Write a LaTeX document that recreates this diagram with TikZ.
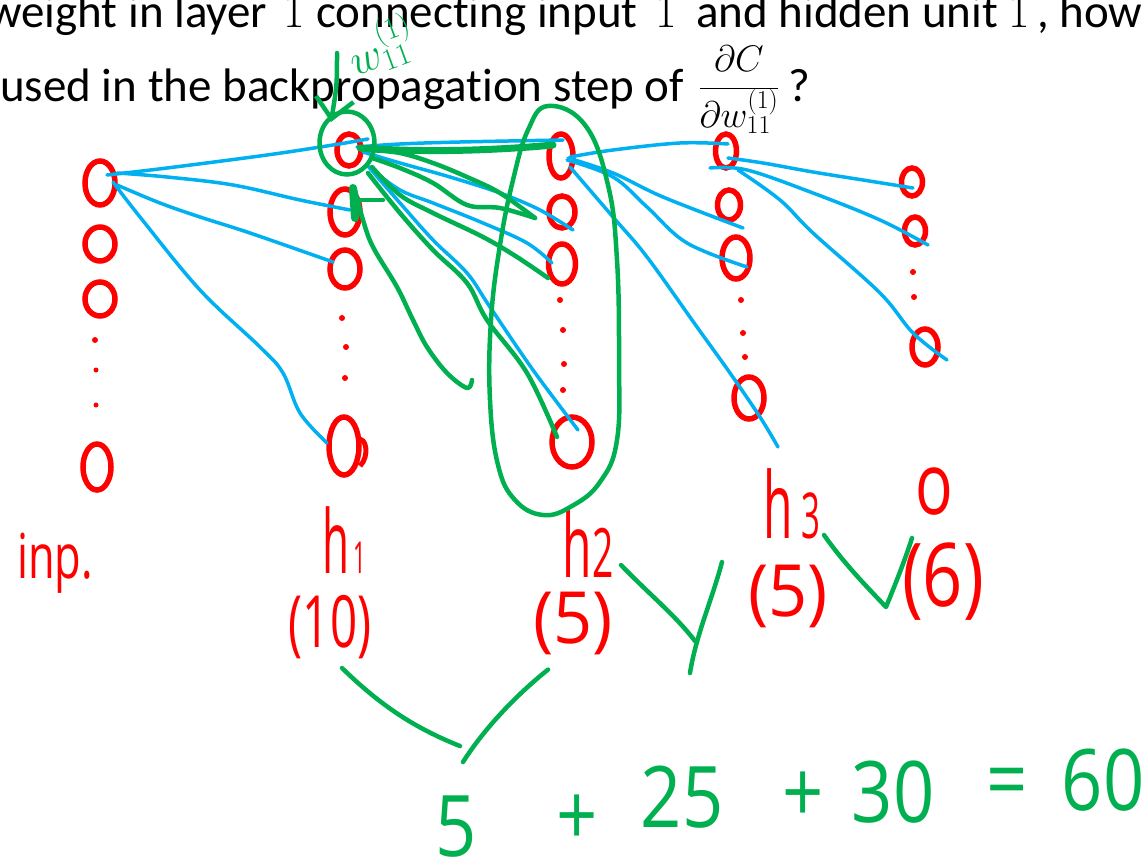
\RequirePackage{fix-cm}
\documentclass[tikz,border=0pt]{standalone}
\usepackage{fontspec}
\setmainfont{Carlito}[Ligatures=NoCommon]
\newfontfamily\hand{Open Sans}
\usetikzlibrary{shapes.geometric,calc,arrows.meta}
\definecolor{pred}{HTML}{FF0000}
\definecolor{pgreen}{HTML}{00B050}
\definecolor{pblue}{HTML}{00B0F0}
\newcommand\serifone{{\fontfamily{lmr}\selectfont 1}}
\tikzset{
 neuron/.style={draw=pred, line width=5.5pt, ellipse, inner sep=0pt, outer sep=0pt},
 rdot/.style={circle, fill=pred, inner sep=0pt, minimum size=6pt},
 bw/.style={draw=pblue, line width=3.5pt, line cap=round, line join=round},
 gw/.style={draw=pgreen, line width=4.5pt, line cap=round, line join=round},
 gthick/.style={draw=pgreen, line width=7pt, line cap=round},
 gcirc/.style={draw=pgreen, line width=4.5pt, ellipse, inner sep=0pt},
 slide/.style={inner sep=0pt, anchor=base west, font=\fontsize{47}{50}\selectfont},
 lab/.style={inner sep=0pt, text=pred, font=\hand},
 sumt/.style={inner sep=0pt, text=pgreen, font=\hand\fontsize{85}{85}\selectfont, xscale=.85},
}
\begin{document}
\begin{tikzpicture}[x=1pt,y=-1pt]
\useasboundingbox (0,0) rectangle (1148,859);
\clip (0,0) rectangle (1148,859);
\fill[white] (0,0) rectangle (1148,859);

% slide text
\node[slide] (l1a) at (-12,28) {weight in layer};
\node[slide] (l1b) at (283,28) {\serifone};
\node[slide] (l1c) at (316,28) {connecting input};
\node[slide] (l1d) at (655,28) {\serifone};
\node[slide] (l1e) at (696,28) {and hidden unit};
\node[slide] (l1f) at (1008,28) {\serifone};
\node[slide] (l1g) at (1037,28) {, how};
\node[slide] (l2) at (0,101) {used in the backpropagation step of};
\node[inner sep=0pt, anchor=base] (frac) at (739,97) {\fontsize{37}{40}\selectfont$\displaystyle\frac{\partial C}{\partial w^{(1)}_{11}}$};
\node[slide] (q) at (788,101) {?};

% neurons
\node[neuron, minimum width=30, minimum height=44] (in1) at (100,183) {};
\node[neuron, minimum width=30, minimum height=34] (in2) at (100,244) {};
\node[neuron, minimum width=30, minimum height=34] (in3) at (100,299) {};
\node[rdot] (ind1) at (95,340) {};
\node[rdot, minimum size=5pt] (ind2) at (96,370) {};
\node[rdot, minimum size=5pt] (ind3) at (96,405) {};
\node[neuron, minimum width=28, minimum height=46] (inN) at (97,467) {};

\node[neuron, minimum width=24, minimum height=32] (h1a) at (349,150) {};
\node[neuron, minimum width=30, minimum height=46] (h1b) at (345,212) {};
\node[neuron, minimum width=30, minimum height=38] (h1c) at (345,269) {};
\node[rdot] (h1d1) at (342,318) {};
\node[rdot] (h1d2) at (346,347) {};
\node[rdot] (h1d3) at (345,378) {};
\node[neuron, minimum width=30, minimum height=58] (h1N) at (344,446) {};
\draw[pred, line width=5pt] ($(h1N)+(14,-6)$) .. controls ($(h1N)+(22,-10)$) and ($(h1N)+(26,10)$) .. ($(h1N)+(16,20)$);

\node[neuron, minimum width=24, minimum height=44] (h2a) at (561,156) {};
\node[neuron, minimum width=26, minimum height=32] (h2b) at (562,212) {};
\node[neuron, minimum width=27, minimum height=40] (h2c) at (562,264) {};
\node[rdot] (h2d1) at (560,300) {};
\node[rdot] (h2d2) at (563,330) {};
\node[rdot] (h2d3) at (564,364) {};
\node[rdot] (h2d4) at (563,390) {};
\node[neuron, minimum width=40, minimum height=50] (h2N) at (572,442) {};

\node[neuron, minimum width=21, minimum height=34] (h3a) at (726,151) {};
\node[neuron, minimum width=23, minimum height=30] (h3b) at (729,205) {};
\node[neuron, minimum width=28, minimum height=42] (h3c) at (736,258) {};
\node[rdot] (h3d1) at (741,300) {};
\node[rdot] (h3d2) at (743,333) {};
\node[rdot] (h3d3) at (745,357) {};
\node[neuron, minimum width=30, minimum height=42] (h3N) at (749,398) {};

\node[neuron, minimum width=21, minimum height=28] (oa) at (912,182) {};
\node[neuron, minimum width=21, minimum height=28] (ob) at (915,231) {};
\node[rdot] (od1) at (913,272) {};
\node[rdot] (od2) at (914,297) {};
\node[neuron, minimum width=26, minimum height=36] (oN) at (925,347) {};

% red labels
\node[lab, anchor=base, xscale=.7] (linp) at (55,578) {\fontsize{62}{62}\selectfont inp.};
\node[lab, anchor=base, xscale=.55, yscale=1.1] (lh1) at (344,573) {\fontsize{80}{80}\selectfont h\fontsize{40}{40}\selectfont\,1};
\node[lab, anchor=base, xscale=.6, yscale=1.1] (lh2) at (588,577) {\fontsize{80}{80}\selectfont h\fontsize{62}{62}\selectfont 2};
\node[lab, anchor=base, xscale=.6, yscale=1.15] (lh3) at (792,538) {\fontsize{80}{80}\selectfont h\,\fontsize{55}{55}\selectfont 3};
\node[lab, xscale=.66] (l10) at (330,627) {\fontsize{72}{72}\selectfont (10)};
\node[lab, xscale=.95] (l5a) at (573,623) {\fontsize{72}{72}\selectfont (5)};
\node[lab, xscale=.95] (l5b) at (788,596) {\fontsize{72}{72}\selectfont (5)};
\node[lab, xscale=.8, yscale=1.1] (lo) at (934,492) {\fontsize{78}{78}\selectfont o};
\node[lab, xscale=.8] (l6) at (943,582) {\fontsize{88}{88}\selectfont (6)};

% blue connectors
\draw[bw] plot[smooth, tension=.6] coordinates {($(in1)+(7,-8)$) (167,168) (267,155) (333,145) ($(h1a)+(19,-11)$)};
\draw[bw] plot[smooth, tension=.6] coordinates {($(in1)+(17,-10)$) (167,177) (233,185) (300,200) ($(h1b)+(5,-2)$)};
\draw[bw] plot[smooth, tension=.6] coordinates {($(in1)+(17,2)$) (160,203) (200,217) (250,233) ($(h1c)+(-12,-7)$)};
\draw[bw] plot[smooth, tension=.6] coordinates {($(in1)+(13,-1)$) (140,217) (200,290) (260,347) (283,373) (300,413) ($(h1N)+(-17,-3)$)};

\draw[bw] plot[smooth, tension=.6] coordinates {($(h1a)+(8,-3)$) (400,144) (460,142) ($(h2a)+(2,-16)$)};
\draw[bw] plot[smooth, tension=.6] coordinates {($(h1a)+(14,2)$) (400,163) (450,177) (500,193) (540,210) ($(h2b)+(11,18)$)};
\draw[bw] plot[smooth, tension=.6] coordinates {($(h1a)+(21,18)$) (400,190) (433,203) (483,223) (527,243) ($(h2c)+(-10,-1)$)};
\draw[bw] plot[smooth, tension=.6] coordinates {($(h1a)+(18,15)$) (400,203) (433,240) (467,273) (490,307) (533,370) ($(h2N)+(6,-12)$)};

\draw[bw] plot[smooth, tension=.6] coordinates {($(h2a)+(9,1)$) (613,150) (680,143) ($(h3a)+(2,-7)$)};
\draw[bw] plot[smooth, tension=.6] coordinates {($(h2a)+(7,2)$) (613,173) (663,197) ($(h3b)+(14,23)$)};
\draw[bw] plot[smooth, tension=.6] coordinates {($(h2a)+(6,4)$) (613,177) (647,207) (687,243) ($(h3c)+(11,9)$)};
\draw[bw] plot[smooth, tension=.6] coordinates {($(h2a)+(9,11)$) (613,217) (647,257) (697,327) (730,373) (760,417) ($(h3N)+(29,49)$)};

\draw[bw] plot[smooth, tension=.6] coordinates {($(h3a)+(2,7)$) (763,163) (813,172) (863,180) ($(oa)+(1,6)$)};
\draw[bw] plot[smooth, tension=.6] coordinates {($(h3a)+(-16,17)$) (747,170) (813,193) (880,220) ($(ob)+(13,14)$)};
\draw[bw] plot[smooth, tension=.6] coordinates {($(h3a)+(12,19)$) (780,200) (813,233) (880,293) (913,333) ($(oN)+(22,13)$)};

% green annotations
\node[gcirc, minimum width=55, minimum height=63] (g1) at (347,143) {};
\node[inner sep=0pt, text=pgreen, rotate=20] (wl) at (381,46) {\fontsize{44}{44}\selectfont$w^{(1)}_{11}$};
\coordinate (wtail) at (337,53);
\draw[gw, -{Straight Barb[length=20pt,width=38pt]}] (wtail) .. controls (337,85) .. ($(g1)+(-16,-21)$);

\draw[gw] plot[smooth cycle, tension=.7] coordinates {(548,106) (585,125) (608,185) (617,260) (619,360) (617,440) (600,482) (572,506) (543,515) (515,500) (498,465) (490,400) (491,320) (500,245) (513,180) (528,130)};

\draw[gthick] ($(h1a)+(11,-2)$) .. controls (430,153) and (500,150) .. ($(h2a)+(-8,-11)$);
\draw[gw] plot[smooth, tension=.6] coordinates {($(h1a)+(19,0)$) (400,153) (433,163) (467,177) (500,193) ($(h2b)+(-27,6)$)};
\draw[gw] plot[smooth, tension=.6] coordinates {($(h1a)+(23,8)$) (400,168) (433,183) (467,205) (500,208) ($(h2b)+(-27,6)$)};
\draw[gw] plot[smooth, tension=.6] coordinates {($(h1a)+(23,17)$) (400,195) (433,213) (483,237) (517,257) ($(h2c)+(-14,14)$)};
\draw[gw] plot[smooth, tension=.6] coordinates {($(h1a)+(19,23)$) (400,213) (433,250) (467,283) (487,320) (527,373) ($(h2N)+(-15,-5)$)};
\coordinate (g4end) at (472,380);
\draw[gw] plot[smooth, tension=.6] coordinates {($(h1b)+(10,-22)$) (363,220) (373,247) (397,287) (413,320) (427,347) (447,373) (467,388) (g4end)};
\draw[pgreen, line width=8pt, line cap=round] ($(h1b)+(8,-24)$) -- ($(h1b)+(10,6)$);
\coordinate (hookend) at (383,200);
\draw[gw] ($(h1b)+(12,-12)$) -- (hookend);

% check marks
\draw[gw] (621,565) .. controls (650,595) and (675,615) .. (695,641);
\draw[gw] (722,562) .. controls (712,600) and (696,635) .. (690,673);
\draw[gw] (824,535) .. controls (845,565) and (870,590) .. (886,607) .. controls (895,585) and (905,560) .. (912,538);

% sum
\node[sumt] (s5) at (456,827) {5};
\node[sumt] (p1) at (577,820) {+};
\node[sumt] (s25) at (682,797) {25};
\node[sumt] (p2) at (803,797) {+};
\node[sumt] (s30) at (893,792) {30};
\node[sumt] (eq) at (1007,789) {=};
\node[sumt] (s60) at (1103,780) {60};

\draw[gw] ($(l10.south)+(12,9)$) .. controls (385,710) and (420,730) .. ($(s5.north)+(4,-50)$);
\draw[gw] ($(l5a.south)+(-25,15)$) .. controls (510,700) and (480,735) .. ($(s5.north)+(7,-34)$);
\end{tikzpicture}
\end{document}
